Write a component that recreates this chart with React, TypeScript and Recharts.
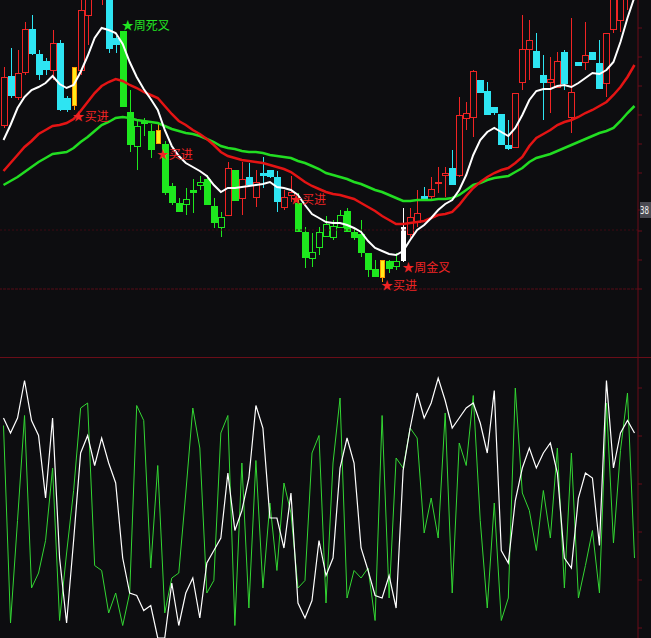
import { Bar, ComposedChart, Line, ReferenceDot, ReferenceLine, XAxis, YAxis } from "recharts";

// daily candles, oldest first
const openP = [
  46.5, 51.4, 49.3, 51.8, 56.1, 53.6, 52.9, 52.0, 54.7, 49.2,
  48.5, 52.0, 57.5, 59.5, 60.0, 62.0, 55.2, 55.9, 47.8, 44.4,
  46.9, 45.9, 46.0, 44.6, 40.4, 38.7, 38.6, 40.0, 40.5, 41.1,
  38.4, 36.3, 37.5, 42.0, 39.2, 41.3, 39.3, 41.7, 42.0, 41.3,
  38.3, 39.5, 38.7, 35.8, 33.2, 34.3, 35.4, 35.3, 36.3, 37.9,
  35.8, 35.6, 33.7, 32.1, 31.3, 32.9, 32.4, 32.9, 35.6, 36.8,
  39.4, 39.4, 40.7, 41.5, 42.2, 41.5, 47.2, 47.3, 51.0, 49.9,
  48.3, 47.6, 44.5, 44.3, 50.8, 54.1, 53.9, 51.5, 50.8, 50.3,
  53.8, 47.3, 52.8, 52.8, 53.8, 52.7, 50.7, 56.1, 57.0, 59.5,
  61.0,
];
const closeP = [
  51.3, 49.4, 51.7, 56.1, 53.6, 51.5, 52.0, 54.7, 48.0, 48.0,
  52.3, 58.0, 59.5, 63.0, 63.5, 54.1, 54.5, 48.3, 44.5, 46.4,
  46.6, 44.0, 44.7, 39.7, 38.7, 37.8, 39.1, 39.7, 40.8, 38.5,
  36.7, 37.3, 42.2, 38.9, 41.1, 40.5, 40.8, 41.4, 41.3, 38.8,
  39.3, 39.8, 35.8, 33.2, 33.8, 35.8, 36.6, 36.4, 37.5, 35.8,
  35.2, 33.7, 32.0, 31.3, 33.0, 32.1, 32.9, 36.3, 37.3, 37.7,
  39.1, 40.1, 40.8, 41.7, 40.5, 47.5, 47.7, 51.9, 49.7, 47.5,
  47.7, 44.5, 44.1, 49.7, 54.1, 55.0, 52.2, 50.7, 51.1, 52.9,
  50.6, 49.8, 52.4, 53.5, 53.0, 50.1, 55.7, 59.5, 60.5, 62.0,
  64.0,
];
const highP = [
  52.3, 54.2, 54.0, 56.8, 57.5, 54.0, 53.2, 56.0, 55.0, 49.4,
  52.3, 59.0, 60.5, 64.0, 64.0, 63.0, 55.4, 55.9, 50.0, 46.9,
  47.2, 46.6, 46.6, 44.9, 40.7, 39.2, 40.2, 41.1, 41.4, 41.5,
  39.2, 37.8, 42.8, 42.0, 42.8, 42.7, 42.0, 43.3, 42.0, 41.9,
  40.0, 41.4, 39.7, 36.3, 35.7, 36.3, 37.4, 37.0, 38.0, 38.2,
  36.2, 37.0, 33.7, 33.0, 33.0, 33.0, 33.7, 38.2, 38.2, 40.0,
  40.3, 41.3, 42.3, 42.3, 44.0, 49.3, 48.8, 52.0, 51.0, 50.8,
  48.3, 47.6, 47.0, 49.7, 57.5, 57.0, 55.7, 53.5, 53.3, 53.8,
  54.0, 57.2, 52.8, 56.8, 53.8, 55.0, 55.7, 61.0, 61.5, 63.0,
  65.0,
];
const lowP = [
  46.2, 49.2, 49.0, 51.5, 53.5, 51.0, 51.5, 51.0, 47.9, 47.8,
  48.0, 51.5, 54.5, 59.2, 58.5, 53.7, 53.7, 48.3, 43.8, 42.0,
  45.4, 43.2, 44.7, 39.5, 38.5, 37.8, 37.5, 37.7, 40.0, 38.5,
  36.2, 35.3, 37.5, 38.9, 37.5, 40.5, 38.3, 40.2, 41.2, 37.8,
  38.0, 38.8, 35.8, 32.2, 32.3, 33.5, 35.3, 35.0, 36.2, 35.8,
  35.0, 33.3, 31.3, 31.3, 30.8, 31.7, 32.0, 32.8, 35.2, 36.3,
  39.0, 39.1, 39.7, 39.3, 40.5, 41.3, 46.0, 45.3, 49.7, 47.5,
  47.5, 44.5, 44.0, 44.3, 50.0, 51.0, 52.2, 47.0, 47.7, 50.3,
  50.0, 45.7, 52.4, 52.0, 53.0, 50.1, 49.3, 55.7, 55.8, 58.0,
  60.0,
];
// n = normal, g = downtrend colouring, y = buy signal bar, w = weekly golden cross bar
const tone = (
  "nnnnnnnnnn" + "y" + "nnnnnn" + "ggggg" + "y" + "ggggggggg" + "n" + "g" +
  "nnnnnnnn" + "gggggggggggg" + "y" + "gg" + "w" + "n".repeat(33)
).split("");

const maFast = [
  45.0, 46.5, 48.2, 49.3, 50.0, 50.3, 50.7, 51.4, 50.6, 50.2,
  50.5, 51.8, 53.4, 55.2, 56.2, 56.0, 55.7, 54.6, 52.8, 51.3,
  50.1, 49.1, 48.0, 46.0, 44.4, 43.4, 42.7, 42.3, 41.9, 41.4,
  40.5, 39.8, 40.2, 40.2, 40.3, 40.4, 40.5, 40.6, 40.8, 40.3,
  40.2, 40.0, 39.5, 38.5, 37.6, 37.2, 36.8, 36.7, 36.7, 36.5,
  36.2, 35.8, 34.9, 34.2, 33.9, 33.6, 33.5, 33.9, 35.0, 36.0,
  36.5, 37.2, 38.0, 38.6, 39.0, 40.0, 41.5, 43.5, 45.0, 45.8,
  46.2, 45.8, 45.4, 46.2, 47.5, 49.0, 49.9, 50.1, 50.1, 50.4,
  50.5, 50.3, 50.7, 51.2, 51.7, 51.6, 52.0, 52.8, 54.8, 57.2,
  59.3,
];
const maMid = [
  41.9, 42.7, 43.5, 44.3, 44.9, 45.6, 46.0, 46.4, 46.5, 46.7,
  47.1, 47.9, 48.8, 49.7, 50.4, 50.8, 51.1, 50.9, 50.5, 50.2,
  49.8, 49.5, 49.2, 48.4, 47.6, 46.9, 46.5, 46.0, 45.6, 45.1,
  44.5, 43.8, 43.4, 43.2, 43.0, 42.9, 42.8, 42.7, 42.5, 42.3,
  42.1, 41.8, 41.3, 40.8, 40.4, 40.1, 39.8, 39.6, 39.5, 39.3,
  39.1, 38.7, 38.3, 37.9, 37.4, 37.0, 36.6, 36.6, 36.7, 36.8,
  36.9, 37.2, 37.5, 37.6, 37.8, 38.5, 39.4, 40.2, 40.8, 41.3,
  41.7, 42.0, 42.2, 42.7, 43.3, 44.4, 45.2, 45.6, 46.0, 46.5,
  46.8, 47.0, 47.3, 47.7, 48.0, 48.4, 48.8, 49.5, 50.3, 51.3,
  52.5,
];
const maSlow = [
  40.5, 40.9, 41.3, 41.8, 42.3, 42.8, 43.2, 43.6, 43.7, 43.8,
  44.2, 44.8, 45.3, 45.9, 46.5, 46.8, 47.2, 47.3, 47.2, 47.0,
  46.9, 46.8, 46.7, 46.4, 46.1, 45.9, 45.7, 45.6, 45.4, 45.1,
  44.8, 44.4, 44.2, 44.1, 43.9, 43.8, 43.8, 43.7, 43.5, 43.4,
  43.3, 43.2, 42.9, 42.7, 42.4, 42.1, 41.7, 41.5, 41.3, 41.1,
  40.8, 40.6, 40.3, 40.0, 39.8, 39.5, 39.2, 38.9, 38.9, 39.0,
  39.0, 39.0, 39.1, 39.1, 39.2, 39.5, 40.0, 40.5, 40.7, 41.0,
  41.2, 41.3, 41.4, 41.8, 42.2, 42.8, 43.2, 43.4, 43.6, 43.9,
  44.2, 44.5, 44.8, 45.1, 45.4, 45.7, 45.9, 46.2, 46.9, 47.7,
  48.4,
];

// oscillator pane
const oscWhite = [
  84, 78, 84, 99, 83, 77, 52, 84, 28, 2,
  35, 70, 77, 65, 76, 66, 58, 28, 14, 13,
  7, 9, -4, -4, 18, 1, 14, 20, 4, 26,
  31, 36, 62, 39, 47, 60, 89, 80, 44, 44,
  32, 54, 10, 4, 11, 35, 21, 28, 64, 76,
  66, 32, 23, 13, 12, 21, 8, 63, 80, 94,
  84, 90, 100, 91, 80, 84, 88, 90, 82, 70,
  95, 31, 26, 51, 64, 72, 64, 70, 74, 62,
  28, 24, 52, 62, 60, 33, 99, 64, 78, 83,
  78,
];
const oscGreen = [
  81, 2, 43, 85, 16, 22, 35, 64, 3, 30,
  55, 88, 90, 25, 23, 6, 14, 1, 14, 89,
  83, 24, 65, 6, 20, 22, 54, 88, 72, 14,
  19, 78, 85, 1, 66, 8, 67, 16, 50, 23,
  58, 46, 16, 19, 70, 77, 10, 66, 92, 12,
  23, 20, 24, 3, 85, 12, 68, 64, 80, 76,
  38, 52, 36, 86, 14, 74, 65, 93, 43, 8,
  50, 3, 12, 96, 54, 47, 31, 55, 36, 72,
  16, 70, 12, 25, 39, 14, 90, 34, 71, 94,
  28,
];

// signal markers: candle index, price level, caption
const signalIdx = [17, 10, 22, 41, 57, 54];
const signalPrice = [56.6, 47.5, 43.7, 39.2, 32.4, 30.6];
const signalText = ["周死叉", "买进", "买进", "买进", "周金叉", "买进"];
const signalColor = ["#22e622", "#f02424", "#f02424", "#f02424", "#f02424", "#f02424"];

const priceTicks = [30.1, 33.0, 35.9, 38, 41.7, 44.6, 47.5, 50.4, 53.3, 56.2];
const oscTicks = [0, 19.2, 38.4, 57.6, 76.8, 96];

const BG = "#0d0d10";
const AXIS = "#6a0d18";
const W = 651;

const candles = openP.map((o, i) => ({
  i,
  open: o,
  close: closeP[i],
  high: highP[i],
  low: lowP[i],
  tone: tone[i],
  range: [lowP[i], highP[i]],
  maFast: maFast[i],
  maMid: maMid[i],
  maSlow: maSlow[i],
}));

const osc = oscWhite.map((w, i) => ({ i, w, g: oscGreen[i] }));

function Candle(props: any) {
  const { x, y, width, height, payload } = props;
  if (height == null || !payload) return null;
  const { open, close, high, low, tone: t } = payload;
  const k = height / (high - low);
  const yOf = (v: number) => y + (high - v) * k;
  const L = Math.round(x + width / 2) - 3;
  const cx = L + 3;
  const top = yOf(Math.max(open, close));
  const bot = Math.max(yOf(Math.min(open, close)), top + 1);
  const hi = yOf(high);
  const lo = yOf(low);
  const rising = close > open;

  if (t === "y") {
    return (
      <g shapeRendering="crispEdges">
        <line x1={cx} x2={cx} y1={hi} y2={lo} stroke="#ff9a00" />
        <rect x={L + 1.5} y={top} width={4} height={bot - top} fill="#ffec1a" stroke="#ff9a00" strokeWidth={1} />
      </g>
    );
  }
  if (t === "w") {
    return (
      <g shapeRendering="crispEdges">
        <line x1={cx} x2={cx} y1={hi} y2={lo} stroke="#ffffff" />
        <rect x={L + 1} y={top} width={5} height={bot - top} fill="#ffffff" />
      </g>
    );
  }
  const color = t === "g" ? "#1ee81e" : rising ? "#f02424" : "#2ee4f2";
  if (rising) {
    return (
      <g shapeRendering="crispEdges">
        <line x1={cx} x2={cx} y1={hi} y2={top} stroke={color} />
        <line x1={cx} x2={cx} y1={bot} y2={lo} stroke={color} />
        <rect x={L + 0.5} y={top} width={6} height={bot - top} fill={BG} stroke={color} strokeWidth={1} />
      </g>
    );
  }
  return (
    <g shapeRendering="crispEdges">
      <line x1={cx} x2={cx} y1={hi} y2={lo} stroke={color} />
      <rect x={L} y={top} width={6.5} height={bot - top} fill={color} />
    </g>
  );
}

function Signal(props: any) {
  const { cx, cy, text, color } = props;
  if (cx == null) return null;
  const sx = cx + 5;
  return (
    <text
      x={sx - 6}
      y={cy}
      dominantBaseline="central"
      fontSize={12}
      fontFamily="'Noto Sans CJK SC', 'Noto Sans', sans-serif"
      fill={color}
    >
      ★{text}
    </text>
  );
}

function PriceTick(props: any) {
  const { x, y, payload } = props;
  if (payload.value !== 38) return <g />;
  return (
    <g>
      <rect x={x - 2} y={y - 8} width={14} height={16} fill="#4a4a52" />
      <text
        x={x - 2}
        y={y + 4}
        fontSize={10}
        textLength={9}
        lengthAdjust="spacingAndGlyphs"
        fontFamily="'DejaVu Sans Mono', monospace"
        fill="#f0f0f0"
      >
        38
      </text>
    </g>
  );
}

export default function App() {
  return (
    <div style={{ position: "absolute", left: 0, top: 0, width: W, height: 638, background: BG, overflow: "hidden" }}>
      <ComposedChart width={W} height={357} data={candles} margin={{ top: 0, right: 0, bottom: 0, left: 0 }}>
        <XAxis dataKey="i" type="number" domain={[-0.5, 90.5]} hide />
        <YAxis
          orientation="right"
          width={13}
          domain={[23.3, 59]}
          allowDataOverflow
          ticks={priceTicks}
          interval={0}
          tickSize={4}
          tickMargin={0}
          axisLine={{ stroke: AXIS }}
          tickLine={{ stroke: AXIS }}
          tick={<PriceTick />}
        />
        <ReferenceLine y={36} stroke="#3e0b13" strokeDasharray="2 2" />
        <ReferenceLine y={30.1} stroke="#560c16" strokeDasharray="3 1" />
        <Bar dataKey="range" barSize={7} shape={<Candle />} isAnimationActive={false} />
        <Line dataKey="maSlow" stroke="#22dd22" strokeWidth={2.5} dot={false} activeDot={false} isAnimationActive={false} />
        <Line dataKey="maMid" stroke="#e41414" strokeWidth={2.5} dot={false} activeDot={false} isAnimationActive={false} />
        <Line dataKey="maFast" stroke="#ffffff" strokeWidth={2} dot={false} activeDot={false} isAnimationActive={false} />
        {signalIdx.map((idx, k) => (
          <ReferenceDot
            key={k}
            x={idx}
            y={signalPrice[k]}
            r={0}
            ifOverflow="visible"
            shape={(p: any) => <Signal {...p} text={signalText[k]} color={signalColor[k]} />}
          />
        ))}
      </ComposedChart>
      <div style={{ borderTop: `1px solid ${AXIS}`, width: W }}>
        <ComposedChart width={W} height={280} data={osc} margin={{ top: 0, right: 0, bottom: 0, left: 0 }}>
          <XAxis dataKey="i" type="number" domain={[-0.5, 90.5]} hide />
          <YAxis
            orientation="right"
            width={13}
            domain={[-4, 108]}
            allowDataOverflow
            ticks={oscTicks}
            interval={0}
            tickSize={4}
            axisLine={{ stroke: AXIS }}
            tickLine={{ stroke: AXIS }}
            tick={() => <g />}
          />
          <Line dataKey="g" stroke="#33d633" strokeWidth={1} dot={false} activeDot={false} isAnimationActive={false} />
          <Line dataKey="w" stroke="#ffffff" strokeWidth={1.2} dot={false} activeDot={false} isAnimationActive={false} />
        </ComposedChart>
      </div>
    </div>
  );
}
